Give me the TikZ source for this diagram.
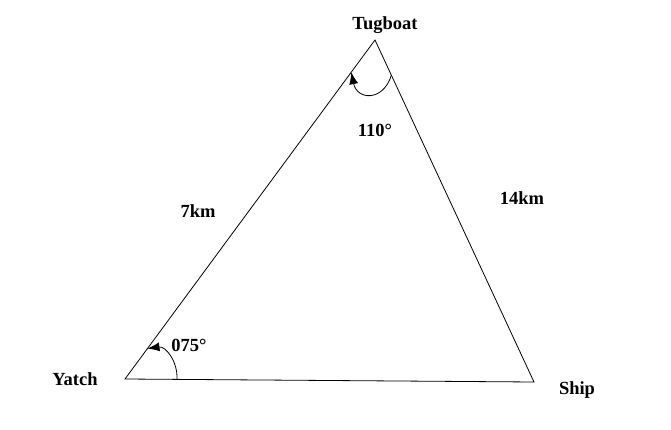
\documentclass[tikz,border=0pt]{standalone}
\usepackage{fontspec}
\setmainfont{Liberation Serif}
\usetikzlibrary{calc,arrows.meta}
\tikzset{lbl/.style={font=\fontsize{18.5}{21}\selectfont\bfseries, inner sep=0pt},
         angarr/.style={-{Latex[length=12pt,width=9pt]}}}

\begin{document}
\begin{tikzpicture}[x=1pt, y=-1pt, line width=0.8pt]
            \useasboundingbox                                             (0,0) rectangle (671,430);
            \coordinate (yatch) at (125,379);
            \coordinate (tug)   at (375,40);
            \coordinate (ship)  at (534,382);
            \draw (yatch) -- (tug) -- (ship) -- cycle;
            % angle marks
            \coordinate (tugR) at ($(tug)!0.103!(ship)$);
            \coordinate (tugL) at ($(tug)!0.095!(yatch)$);
            \draw[angarr] (tugR) .. controls (383,102) and (357,100) .. (tugL);
            \coordinate (yatR) at ($(yatch)!0.127!(ship)$);
            \coordinate (yatU) at ($(yatch)!0.09!(tug)$);
            \draw[angarr] (yatR) .. controls (178,362) and (166,346) .. (yatU);
            % labels
            \node[lbl] (tuglbl)  at (385,25)  {Tugboat};
            \node[lbl] (yatlbl)  at (75,379)  {Yatch};
            \node[lbl] (shiplbl) at (577,390) {Ship};
            \node[lbl] (tugang)  at (375,130) {110°};
            \node[lbl] (yatang)  at (189,345) {075°};
            \node[lbl] (leftkm)  at (198,211) {7km};
            \node[lbl] (rightkm) at (522,198) {14km};
\end{tikzpicture}
\end{document}
